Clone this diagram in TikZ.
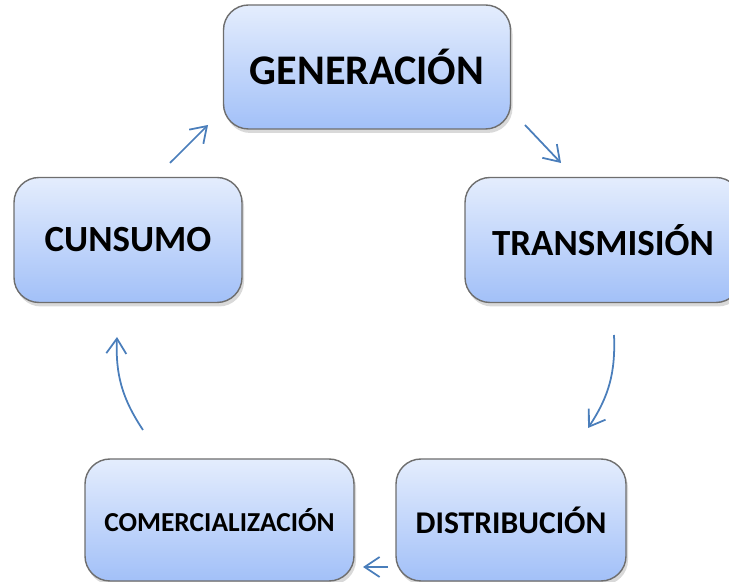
\documentclass[tikz,border=0pt]{standalone}
\usepackage{fontspec}
\setmainfont{Carlito}
\usepackage{xcolor}
\usetikzlibrary{arrows.meta, shadows}
\definecolor{boxTop}{HTML}{E4EDFD}
\definecolor{boxBot}{HTML}{A2C0F8}
\definecolor{boxLine}{HTML}{6E6E6E}
\definecolor{arrowBlue}{HTML}{4A7EBB}

\begin{document}
\begin{tikzpicture}
		\tikzset{box/.style = {shape=rectangle, draw=boxLine, line width=0.8pt, rounded corners=0.5cm, top color=boxTop, bottom color=boxBot, drop shadow={opacity=0.3, shadow xshift=0.04cm, shadow yshift=-0.08cm}}}
		\tikzset{edge/.style = {draw=arrowBlue, line width=1pt, -{Straight Barb[length=3mm, width=4mm]}}}

		\useasboundingbox (0,0) rectangle (14.58,11.64);

		\node[box, minimum width=5.74cm, minimum height=2.48cm, font=\bfseries\fontsize{24}{28}\selectfont] (B_1) at (7.34,10.3) {GENERACIÓN};
		\node[box, minimum width=5.52cm, minimum height=2.5cm, font=\bfseries\fontsize{21}{25}\selectfont] (B_2) at (12.06,6.84) {TRANSMISIÓN};
		\node[box, minimum width=4.6cm, minimum height=2.44cm, font=\bfseries\fontsize{18}{22}\selectfont] (B_3) at (10.22,1.24) {DISTRIBUCIÓN};
		\node[box, minimum width=5.38cm, minimum height=2.44cm, font=\bfseries\fontsize{15.6}{19}\selectfont] (B_4) at (4.39,1.24) {COMERCIALIZACIÓN};
		\node[box, minimum width=4.56cm, minimum height=2.5cm, font=\bfseries\fontsize{21}{25}\selectfont] (B_5) at (2.56,6.84) {CUNSUMO};

		\coordinate (P_1) at (3.40,8.38);
		\coordinate (P_2) at (4.16,9.14);
		\coordinate (P_3) at (10.50,9.14);
		\coordinate (P_4) at (11.22,8.38);
		\coordinate (P_5) at (12.28,4.94);
		\coordinate (P_6) at (11.76,3.08);
		\coordinate (P_7) at (7.76,0.30);
		\coordinate (P_8) at (7.26,0.30);
		\coordinate (P_9) at (2.86,3.04);
		\coordinate (P_10) at (2.34,4.90);

		\draw[edge] (P_1) to (P_2);
		\draw[edge] (P_3) to (P_4);
		\draw[edge] (P_5) to[bend left=18] (P_6);
		\draw[edge] (P_7) to (P_8);
		\draw[edge] (P_9) to[bend left=18] (P_10);

	\end{tikzpicture}
\end{document}
